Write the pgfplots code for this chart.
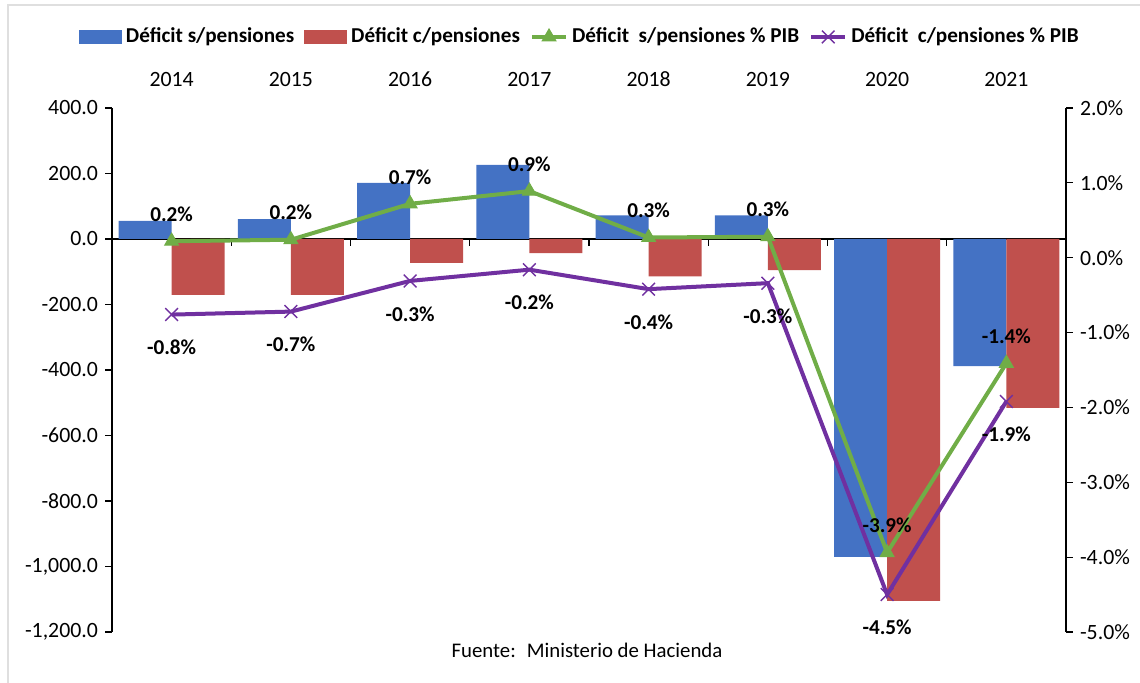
\documentclass[border=0pt]{standalone}
\usepackage{pgfplots}
\pgfplotsset{compat=1.18}
\usepackage{pgfplotstable}
\usepackage{fontspec}
\setmainfont{Carlito}
\definecolor{barblue}{HTML}{4472C4}
\definecolor{barred}{HTML}{C0504D}
\definecolor{lgreen}{HTML}{70AD47}
\definecolor{lpurple}{HTML}{7030A0}
\pgfplotstableread{
x s c gs gc
0 55 -171 0.22 -0.76
1 61 -171 0.24 -0.72
2 171 -73 0.72 -0.31
3 226 -43 0.89 -0.16
4 72 -114 0.27 -0.42
5 72 -95 0.28 -0.34
6 -971 -1105 -3.94 -4.50
7 -388 -516 -1.41 -1.92
}\data
\begin{document}
\begin{tikzpicture}
\path[use as bounding box] (0,0) rectangle (570pt,341.5pt);
\draw[gray!25, line width=1pt] (4pt,0) -- (4pt,339pt) -- (570pt,339pt);
\begin{axis}[
  at={(56pt,25.5pt)}, anchor=south west,
  scale only axis, width=477pt, height=262pt,
  xmin=-0.5, xmax=7.5, ymin=-1200, ymax=400,
  axis y line*=left, axis x line*=middle,
  xtick={-0.5,0.5,...,7.5}, xticklabels={},
  xtick align=outside, ytick align=outside,
  major tick length=3.5pt,
  tick style={black, line width=0.6pt},
  axis line style={black, line width=0.8pt},
  ytick={-1200,-1000,...,400},
  yticklabel style={font=\fontsize{10.9}{13}\selectfont,
    /pgf/number format/.cd, fixed, fixed zerofill, precision=1, 1000 sep={,}, assume math mode=true},
  clip=false,
]
\addplot[ybar, bar width=0.444, bar shift=-0.222, fill=barblue, draw=none] table[x=x,y=s] {\data};
\addplot[ybar, bar width=0.444, bar shift=0.222, fill=barred, draw=none] table[x=x,y=c] {\data};
\end{axis}
\begin{axis}[
  at={(56pt,25.5pt)}, anchor=south west,
  scale only axis, width=477pt, height=262pt,
  xmin=-0.5, xmax=7.5, ymin=-5, ymax=2,
  axis y line*=right, axis x line*=top,
  x axis line style={draw=none},
  y axis line style={black, line width=0.8pt},
  xtick={0,...,7}, xticklabels={2014,2015,2016,2017,2018,2019,2020,2021},
  major x tick style={draw=none},
  xticklabel style={font=\fontsize{10.9}{13}\selectfont, yshift=7pt},
  ytick={-5,...,2}, ytick align=outside, major tick length=3.5pt,
  major y tick style={black, line width=0.6pt},
  yticklabel={\pgfmathprintnumber[fixed,fixed zerofill,precision=1,assume math mode=true]{\tick}\%},
  yticklabel style={font=\fontsize{10.9}{13}\selectfont},
  clip=false,
  legend columns=4,
  legend style={at={(0.4916,1.1355)}, anchor=center, draw=none, fill=none,
    font=\bfseries\fontsize{10.6}{12}\selectfont,
    /tikz/every even column/.append style={column sep=3pt},
    inner sep=0pt},
]
\addlegendimage{legend image code/.code={\fill[barblue] (0pt,-3.25pt) rectangle (21pt,3.25pt);}}
\addlegendentry{Déficit s/pensiones}
\addlegendimage{legend image code/.code={\fill[barred] (0pt,-3.25pt) rectangle (21pt,3.25pt);}}
\addlegendentry{Déficit c/pensiones}
\addplot[lgreen, line width=2pt, mark=triangle*, mark size=4pt, mark options={line width=0.5pt, fill=lgreen},
  nodes near coords={\pgfmathprintnumber[fixed,fixed zerofill,precision=1,assume math mode=true]{\pgfplotspointmeta}\%},
  point meta=y,
  every node near coord/.append style={black, font=\bfseries\fontsize{10.6}{12}\selectfont, anchor=center, yshift=13.5pt}]
  table[x=x,y=gs] {\data};
\addlegendentry{Déficit~ s/pensiones \% PIB}
\addplot[lpurple, line width=2pt, mark=x, mark size=4.5pt, mark options={line width=0.7pt},
  nodes near coords={\pgfmathprintnumber[fixed,fixed zerofill,precision=1,assume math mode=true]{\pgfplotspointmeta}\%},
  point meta=y,
  every node near coord/.append style={black, font=\bfseries\fontsize{10.6}{12}\selectfont, anchor=center, yshift=-16.5pt}]
  table[x=x,y=gc] {\data};
\addlegendentry{Déficit~ c/pensiones \% PIB}
\end{axis}
\node[font=\fontsize{10.4}{12}\selectfont] at (293.5pt,16.5pt) {Fuente:~ Ministerio de Hacienda};
\end{tikzpicture}
\end{document}
